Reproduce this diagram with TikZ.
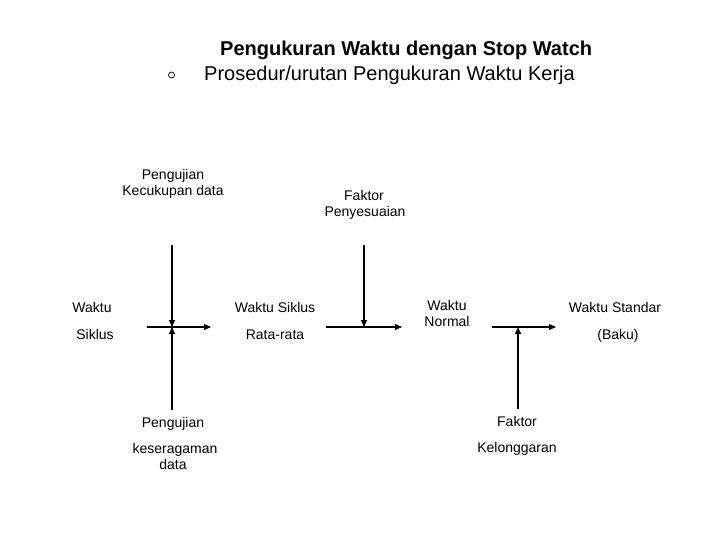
\documentclass[tikz,border=0pt]{standalone}
\usepackage{fontspec}
\setmainfont{Liberation Sans}
\usetikzlibrary{arrows.meta}
\tikzset{
  lbl/.style={inner sep=0pt, anchor=base, font=\fontsize{14bp}{16bp}\selectfont},
  ttl/.style={inner sep=0pt, anchor=base west, font=\fontsize{20bp}{24bp}\selectfont},
  conn/.style={line width=1.1bp, -{Triangle[length=7bp,width=6bp]}},
  thickconn/.style={line width=2.6bp, -{Triangle[length=7bp,width=6bp]}}
}
\begin{document}
\begin{tikzpicture}[x=1bp,y=-1bp]
\useasboundingbox[fill=white] (0,0) rectangle (720,540);
% titles
\node[ttl, font=\fontsize{20bp}{24bp}\selectfont\bfseries] (t1) at (220,56) {Pengukuran Waktu dengan Stop Watch};
\node[ttl] (t2) at (204,81) {Prosedur/urutan Pengukuran Waktu Kerja};
\node[circle, draw, line width=0.7bp, minimum size=6bp, inner sep=0pt] (bul) at (171.5,75) {};
% labels
\node[lbl] (kec1) at (173,180) {Pengujian};
\node[lbl] (kec2) at (173,196) {Kecukupan data};
\node[lbl] (fp1) at (364,201) {Faktor};
\node[lbl] (fp2) at (365,217) {Penyesuaian};
\node[lbl] (ws1) at (92,312) {Waktu};
\node[lbl] (ws2) at (95,339.5) {Siklus};
\node[lbl] (wr1) at (275,312) {Waktu Siklus};
\node[lbl] (wr2) at (275,339.5) {Rata-rata};
\node[lbl] (wn1) at (447,310) {Waktu};
\node[lbl] (wn2) at (447,326.5) {Normal};
\node[lbl] (wst1) at (615,312) {Waktu Standar};
\node[lbl] (wst2) at (618,339.5) {(Baku)};
\node[lbl] (ks1) at (173,427) {Pengujian};
\node[lbl] (ks2) at (175,453) {keseragaman};
\node[lbl] (ks3) at (173,469) {data};
\node[lbl] (fk1) at (517,426) {Faktor};
\node[lbl] (fk2) at (517,452) {Kelonggaran};
% connector points
\coordinate (v1top) at (172,245);
\coordinate (v1mid) at (172,327);
\coordinate (v1bot) at (172,410);
\coordinate (h1s) at (147,327);
\coordinate (h1e) at (211,327);
\coordinate (v2top) at (364,245);
\coordinate (v2mid) at (364,327);
\coordinate (h2s) at (326,327);
\coordinate (h2e) at (402,327);
\coordinate (h3s) at (492,327);
\coordinate (h3e) at (556,327);
\coordinate (v3bot) at (518,409);
\coordinate (v3mid) at (518,327);
% connectors
\draw[conn] (v1top) -- (v1mid);
\draw[conn] (v1bot) -- (v1mid);
\draw[conn] (h1s) -- (h1e);
\draw[conn] (v2top) -- (v2mid);
\draw[conn] (h2s) -- (h2e);
\draw[conn] (h3s) -- (h3e);
\draw[thickconn] (v3bot) -- (v3mid);
\end{tikzpicture}
\end{document}
